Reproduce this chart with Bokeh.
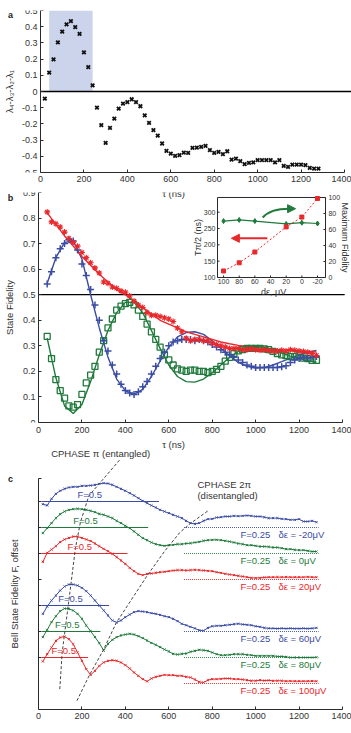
import math
from bokeh.plotting import figure
from bokeh.layouts import column
from bokeh.models import (Range1d, Label, Arrow, NormalHead,
                          FixedTicker, NumeralTickFormatter, CustomJSTickFormatter)
from bokeh.embed import file_html
from bokeh.resources import INLINE
from bokeh.core.properties import value

FONT = "Liberation Sans"
RED = "#e8282b"
BLUE = "#3b4ca4"
GREEN = "#1f7a3c"
INK = "#2a2a2a"
TXT = "#333333"

# ---------------- panel a data ----------------
tau_a = list(range(20, 1281, 20))
lam_a = [-0.044, 0.116, 0.198, 0.303, 0.370, 0.414, 0.434, 0.397,
         0.356, 0.241, 0.151, 0.038, -0.100, -0.208, -0.317, -0.225,
         -0.167, -0.106, -0.075, -0.065, -0.048, -0.065, -0.091, -0.147,
         -0.194, -0.239, -0.272, -0.321, -0.367, -0.383, -0.397, -0.393,
         -0.377, -0.379, -0.348, -0.346, -0.342, -0.336, -0.362, -0.379,
         -0.373, -0.387, -0.369, -0.420, -0.414, -0.430, -0.448, -0.440,
         -0.438, -0.424, -0.424, -0.424, -0.424, -0.438, -0.424, -0.459,
         -0.465, -0.451, -0.451, -0.451, -0.455, -0.472, -0.476, -0.476]
shade_a = [40, 240]
shade_top = 0.5

# ---------------- panel b data ----------------
tau_b = list(range(40, 1281, 20))
red_b = [0.824, 0.785, 0.778, 0.765, 0.745, 0.720, 0.705, 0.690,
         0.665, 0.645, 0.625, 0.605, 0.585, 0.550, 0.545, 0.530,
         0.525, 0.515, 0.510, 0.495, 0.475, 0.460, 0.450, 0.430,
         0.420, 0.420, 0.415, 0.410, 0.405, 0.395, 0.370, 0.355,
         0.330, 0.320, 0.325, 0.325, 0.320, 0.320, 0.310, 0.305,
         0.300, 0.295, 0.290, 0.290, 0.290, 0.285, 0.285, 0.288,
         0.285, 0.283, 0.285, 0.282, 0.280, 0.280, 0.283, 0.280,
         0.285, 0.283, 0.280, 0.278, 0.275, 0.270, 0.262]
blue_b = [0.542, 0.590, 0.645, 0.680, 0.700, 0.715, 0.710, 0.675,
          0.620, 0.575, 0.520, 0.460, 0.400, 0.320, 0.280, 0.225,
          0.190, 0.150, 0.125, 0.115, 0.110, 0.120, 0.140, 0.160,
          0.190, 0.220, 0.250, 0.275, 0.300, 0.315, 0.320, 0.325,
          0.325, 0.325, 0.320, 0.325, 0.320, 0.315, 0.305, 0.295,
          0.285, 0.275, 0.265, 0.255, 0.245, 0.235, 0.225, 0.220,
          0.215, 0.215, 0.215, 0.215, 0.215, 0.215, 0.218, 0.222,
          0.235, 0.245, 0.250, 0.255, 0.252, 0.255, 0.258]
green_b = [0.337, 0.250, 0.168, 0.125, 0.095, 0.065, 0.060, 0.070,
           0.110, 0.155, 0.185, 0.220, 0.275, 0.320, 0.370, 0.405,
           0.440, 0.455, 0.465, 0.470, 0.460, 0.440, 0.415, 0.385,
           0.355, 0.325, 0.295, 0.265, 0.245, 0.225, 0.210, 0.205,
           0.200, 0.205, 0.205, 0.200, 0.200, 0.195, 0.200, 0.208,
           0.220, 0.240, 0.255, 0.270, 0.280, 0.285, 0.290, 0.290,
           0.290, 0.290, 0.288, 0.285, 0.278, 0.270, 0.265, 0.262,
           0.258, 0.258, 0.265, 0.252, 0.250, 0.243, 0.243]
tau_fit = list(range(40, 1281, 40))
red_fit = [0.820, 0.775, 0.730, 0.690, 0.650, 0.615, 0.580, 0.550,
           0.520, 0.500, 0.475, 0.450, 0.425, 0.400, 0.385, 0.370,
           0.355, 0.345, 0.335, 0.325, 0.315, 0.308, 0.302, 0.298,
           0.294, 0.290, 0.287, 0.284, 0.282, 0.280, 0.278, 0.276]
blue_fit = [0.545, 0.645, 0.705, 0.710, 0.640, 0.500, 0.370, 0.255,
            0.170, 0.125, 0.110, 0.130, 0.180, 0.240, 0.295, 0.335,
            0.352, 0.355, 0.345, 0.320, 0.290, 0.260, 0.235, 0.220,
            0.213, 0.215, 0.225, 0.238, 0.252, 0.265, 0.275, 0.282]
green_fit = [0.330, 0.175, 0.065, 0.035, 0.070, 0.160, 0.265, 0.360,
             0.430, 0.470, 0.470, 0.430, 0.360, 0.290, 0.225, 0.180,
             0.160, 0.158, 0.170, 0.195, 0.225, 0.255, 0.278, 0.293,
             0.298, 0.295, 0.285, 0.272, 0.260, 0.250, 0.242, 0.236]

# ---------------- inset data ----------------
de_inset = [100, 80, 60, 20, 0, -20]
tpi2_inset = [120, 145, 178, 255, 285, 342]
maxfid_inset = [70.5, 72, 70.5, 67, 68.5, 67.5]
ins_xticks = [100, 80, 60, 40, 20, 0, -20]
ins_lticks = [100, 150, 200, 250, 300]
ins_rticks = [0, 20, 40, 60, 80, 100]

# ---------------- panel c data ----------------
tau_c = list(range(20, 1281, 20))
c_names = ["-20", "0", "20", "60", "80", "100"]
c_offsets = [1.5, 1.25, 1.0, 0.5, 0.25, 0.0]
c_colors = [BLUE, GREEN, RED, BLUE, GREEN, RED]
c_vals = [
    [0.474, 0.462, 0.526, 0.574, 0.603, 0.622, 0.635, 0.641,
     0.641, 0.650, 0.650, 0.654, 0.660, 0.670, 0.676, 0.673,
     0.660, 0.641, 0.622, 0.603, 0.580, 0.558, 0.532, 0.506,
     0.484, 0.462, 0.442, 0.420, 0.404, 0.388, 0.372, 0.356,
     0.340, 0.314, 0.292, 0.285, 0.292, 0.314, 0.330, 0.333,
     0.346, 0.349, 0.356, 0.356, 0.362, 0.359, 0.362, 0.365,
     0.362, 0.356, 0.356, 0.349, 0.340, 0.340, 0.340, 0.333,
     0.330, 0.324, 0.324, 0.330, 0.308, 0.308, 0.314, 0.301],
    [0.446, 0.494, 0.542, 0.590, 0.628, 0.654, 0.670, 0.676,
     0.680, 0.676, 0.670, 0.660, 0.647, 0.631, 0.622, 0.606,
     0.590, 0.564, 0.542, 0.516, 0.494, 0.462, 0.430, 0.398,
     0.378, 0.356, 0.340, 0.330, 0.324, 0.330, 0.333, 0.340,
     0.340, 0.346, 0.349, 0.356, 0.362, 0.372, 0.378, 0.381,
     0.382, 0.378, 0.372, 0.365, 0.356, 0.346, 0.340, 0.330,
     0.330, 0.324, 0.317, 0.317, 0.314, 0.308, 0.308, 0.301,
     0.292, 0.292, 0.285, 0.282, 0.282, 0.276, 0.269, 0.269],
    [0.420, 0.506, 0.538, 0.570, 0.610, 0.635, 0.650, 0.663,
     0.663, 0.650, 0.635, 0.620, 0.596, 0.570, 0.545, 0.522,
     0.497, 0.465, 0.433, 0.400, 0.362, 0.330, 0.304, 0.292,
     0.304, 0.308, 0.314, 0.320, 0.324, 0.330, 0.336, 0.340,
     0.340, 0.337, 0.340, 0.343, 0.340, 0.337, 0.333, 0.330,
     0.320, 0.314, 0.305, 0.298, 0.292, 0.285, 0.279, 0.272,
     0.266, 0.265, 0.266, 0.270, 0.272, 0.272, 0.273, 0.272,
     0.273, 0.272, 0.272, 0.272, 0.272, 0.275, 0.272, 0.272],
    [0.420, 0.490, 0.548, 0.596, 0.644, 0.683, 0.702, 0.702,
     0.692, 0.670, 0.638, 0.596, 0.548, 0.500, 0.452, 0.404,
     0.356, 0.337, 0.356, 0.388, 0.413, 0.436, 0.446, 0.442,
     0.436, 0.426, 0.420, 0.410, 0.397, 0.388, 0.372, 0.350,
     0.324, 0.310, 0.295, 0.280, 0.262, 0.258, 0.285, 0.300,
     0.305, 0.305, 0.310, 0.315, 0.320, 0.325, 0.318, 0.315,
     0.310, 0.300, 0.295, 0.285, 0.280, 0.280, 0.278, 0.280,
     0.278, 0.280, 0.278, 0.278, 0.280, 0.278, 0.280, 0.285],
    [0.446, 0.516, 0.590, 0.647, 0.696, 0.721, 0.718, 0.702,
     0.670, 0.622, 0.558, 0.503, 0.446, 0.388, 0.317, 0.381,
     0.420, 0.446, 0.462, 0.471, 0.478, 0.471, 0.455, 0.436,
     0.413, 0.390, 0.372, 0.350, 0.327, 0.308, 0.285, 0.279,
     0.285, 0.288, 0.305, 0.314, 0.324, 0.320, 0.314, 0.298,
     0.282, 0.272, 0.272, 0.276, 0.282, 0.282, 0.282, 0.276,
     0.272, 0.266, 0.266, 0.266, 0.266, 0.266, 0.260, 0.260,
     0.256, 0.250, 0.250, 0.250, 0.250, 0.250, 0.250, 0.252],
    [0.462, 0.532, 0.596, 0.660, 0.692, 0.702, 0.676, 0.628,
     0.548, 0.468, 0.388, 0.333, 0.372, 0.420, 0.452, 0.468,
     0.474, 0.468, 0.452, 0.426, 0.394, 0.356, 0.324, 0.292,
     0.270, 0.298, 0.314, 0.324, 0.333, 0.330, 0.330, 0.324,
     0.324, 0.314, 0.308, 0.288, 0.266, 0.260, 0.282, 0.292,
     0.292, 0.295, 0.298, 0.298, 0.292, 0.292, 0.288, 0.282,
     0.276, 0.276, 0.282, 0.278, 0.280, 0.276, 0.276, 0.276,
     0.272, 0.274, 0.272, 0.272, 0.272, 0.272, 0.274, 0.272],
]
f05_start = 15
f05_end = [555, 505, 410, 325, 285, 228]
f05_label_tau = [236, 216, 190, 147, 132, 116]
f025_span = [670, 1290]
cph1_tau = [98, 109, 140, 170, 193, 232, 378]
cph1_val = [0.196, 0.548, 1.05, 1.55, 1.80, 2.055, 2.41]
cph2_tau = [177, 235, 297, 359, 503, 580, 650, 700, 785]
cph2_val = [0.084, 0.333, 0.565, 0.837, 1.295, 1.52, 1.70, 1.79, 1.917]

W = 351


def base(h, xr, yr, bt, bb):
    p = figure(width=W, height=h, x_range=xr, y_range=yr, output_backend="svg",
               toolbar_location=None, min_border_left=0, min_border_right=0,
               min_border_top=bt, min_border_bottom=bb)
    p.outline_line_color = None
    p.xgrid.visible = False
    p.ygrid.visible = False
    p.background_fill_alpha = 0
    p.border_fill_alpha = 0
    return p


def style_axis(ax, fs="9px", lfs="9.5px", tick=3):
    ax.major_tick_in = tick
    ax.major_tick_out = 0
    ax.minor_tick_in = 0
    ax.minor_tick_out = 0
    ax.axis_line_color = INK
    ax.major_tick_line_color = INK
    ax.major_label_text_font = FONT
    ax.major_label_text_font_size = fs
    ax.major_label_text_color = TXT
    ax.axis_label_text_font = FONT
    ax.axis_label_text_font_style = "normal"
    ax.axis_label_text_font_size = lfs
    ax.axis_label_text_color = TXT
    ax.major_label_standoff = 3
    ax.axis_label_standoff = 2


def lab(p, x, y, t, size="9.5px", color=TXT, align="center", base_="middle",
        bold=False, angle=0.0, **kw):
    p.add_layout(Label(x=x, y=y, text=t, text_font=FONT, text_font_size=size,
                       text_font_style="bold" if bold else "normal",
                       text_color=color, text_align=align, text_baseline=base_,
                       angle=angle, **kw))


xticks = [0, 200, 400, 600, 800, 1000, 1200, 1400]

# ================= panel a =================  (canvas 0..186, frame rows 10..172)
pa = base(186, Range1d(-184.2, 1432.2), Range1d(-0.5, 0.5), 10, 14)
pa.quad(left=[shade_a[0]], right=[shade_a[1]], bottom=[0], top=[shade_top],
        fill_color="#ccd4ec", line_color=None)
pa.line([0, 1432], [0, 0], line_color="black", line_width=1.3)
pa.scatter(tau_a, lam_a, marker="x", size=5, line_color="#111111", line_width=1.8)
for ax in pa.axis:
    style_axis(ax)
pa.xaxis.ticker = FixedTicker(ticks=xticks)
pa.xaxis.bounds = (0, 1400)
pa.yaxis.ticker = FixedTicker(ticks=[-0.5, -0.4, -0.3, -0.2, -0.1, 0, 0.1, 0.2, 0.3, 0.4, 0.5])
pa.yaxis.formatter = NumeralTickFormatter(format="0.[0]")
pa.yaxis.fixed_location = 0
pa.yaxis.bounds = (-0.5, 0.5)
pa.yaxis.axis_label = "λ₄-λ₃-λ₂-λ₁"
pa.xaxis.major_label_standoff = 3
pa.yaxis.axis_label_standoff = 4
lab(pa, -138, 0.475, "a", size="9px", color="#222222", bold=True)

# ================= panel b =================  (canvas 186..436, frame rows 192..422)
pb = base(250, Range1d(-175.0, 1441.4), Range1d(0, 0.9), 6, 14)
pb.line([0, 1410], [0.5, 0.5], line_color="black", line_width=1.3)
pb.line(tau_fit, green_fit, line_color=GREEN, line_width=1.4)
pb.line(tau_fit, blue_fit, line_color=BLUE, line_width=1.4)
pb.line(tau_fit, red_fit, line_color=RED, line_width=1.4)
pb.scatter(tau_b, green_b, marker="square", size=6, fill_color=None,
           line_color=GREEN, line_width=1.3)
pb.scatter(tau_b, blue_b, marker="cross", size=7, line_color=BLUE, line_width=1.5)
pb.scatter(tau_b, red_b, marker="asterisk", size=6, line_color=RED, line_width=1.1)
for ax in pb.axis:
    style_axis(ax)
pb.xaxis.ticker = FixedTicker(ticks=xticks)
pb.xaxis.bounds = (0, 1400)
pb.yaxis.ticker = FixedTicker(ticks=[0, 0.1, 0.2, 0.3, 0.4, 0.5, 0.6, 0.7, 0.8, 0.9])
pb.yaxis.formatter = NumeralTickFormatter(format="0.[0]")
pb.yaxis.fixed_location = 0
pb.yaxis.bounds = (0, 0.9)
pb.yaxis.axis_label = "State Fidelity"
pb.xaxis.major_label_standoff = 4
pb.yaxis.axis_label_standoff = 5
lab(pb, -129, 0.88, "b", size="9px", color="#222222", bold=True)
lab(pb, 622, 0.896, "τ (ns)")  # x title of panel a

# ---- inset drawn inside panel b on its own ranges ----
pb.extra_x_ranges = {"ix": Range1d(384.8, -63.4)}
pb.extra_y_ranges = {"iy": Range1d(-344.1, 360.3), "if": Range1d(-181.25, 106.25)}
IX0, IX1, IY0, IY1 = 107.7, -30.2, 100, 345
pb.quad(left=[IX0], right=[IX1], bottom=[IY0], top=[IY1], x_range_name="ix",
        y_range_name="iy", fill_color="white", line_color=INK, line_width=1)
pb.segment(x0=ins_xticks, x1=ins_xticks, y0=[IY0] * 7, y1=[IY0 + 6.1] * 7,
           x_range_name="ix", y_range_name="iy", line_color=INK, line_width=1)
pb.segment(x0=[IX0] * 5, x1=[IX0 - 2.6] * 5, y0=ins_lticks, y1=ins_lticks,
           x_range_name="ix", y_range_name="iy", line_color=INK, line_width=1)
pb.segment(x0=[IX1] * 6, x1=[IX1 + 2.6] * 6, y0=ins_rticks, y1=ins_rticks,
           x_range_name="ix", y_range_name="if", line_color=INK, line_width=1)
pb.text(x=ins_xticks, y=[96.9] * 7, text=[str(v) for v in ins_xticks],
        x_range_name="ix", y_range_name="iy", text_font=value(FONT),
        text_font_size="7px", text_color=TXT, text_align="center", text_baseline="top")
pb.text(x=[IX0 + 2.6] * 5, y=ins_lticks, text=[str(v) for v in ins_lticks],
        x_range_name="ix", y_range_name="iy", text_font=value(FONT),
        text_font_size="7px", text_color=TXT, text_align="right", text_baseline="middle")
pb.text(x=[IX1 - 3.8] * 6, y=ins_rticks, text=[str(v) for v in ins_rticks],
        x_range_name="ix", y_range_name="if", text_font=value(FONT),
        text_font_size="7px", text_color=TXT, text_align="left", text_baseline="middle")
lab(pb, 36, 57, "dε, μV", size="9px", x_range_name="ix", y_range_name="iy")
lab(pb, 132, 222.5, "Tπ/2 (ns)", size="9px", angle=math.pi / 2,
    x_range_name="ix", y_range_name="iy")
lab(pb, -55.7, 50, "Maximum Fidelity", size="9px", angle=-math.pi / 2,
    x_range_name="ix", y_range_name="if")
pb.line(de_inset, maxfid_inset, x_range_name="ix", y_range_name="if",
        line_color=GREEN, line_width=1.2)
pb.scatter(de_inset, maxfid_inset, x_range_name="ix", y_range_name="if",
           marker="diamond", size=5, fill_color=GREEN, line_color=GREEN)
pb.line(de_inset, tpi2_inset, x_range_name="ix", y_range_name="iy",
        line_color=RED, line_width=1.0, line_dash="2 2")
pb.scatter(de_inset, tpi2_inset, x_range_name="ix", y_range_name="iy",
           marker="square", size=4, fill_color=RED, line_color=RED)
pb.add_layout(Arrow(end=NormalHead(size=8, fill_color=RED, line_color=RED),
                    x_start=44, y_start=220, x_end=90, y_end=220,
                    x_range_name="ix", y_range_name="iy",
                    line_color=RED, line_width=2))
pb.bezier(x0=[50], y0=[75], x1=[16], y1=[86], cx0=[42], cy0=[84], cx1=[28], cy1=[86],
          x_range_name="ix", y_range_name="if", line_color=GREEN, line_width=2)
pb.add_layout(Arrow(end=NormalHead(size=8, fill_color=GREEN, line_color=GREEN),
                    x_start=18, y_start=86, x_end=8, y_end=86,
                    x_range_name="ix", y_range_name="if",
                    line_color=GREEN, line_width=2))

# ================= panel c =================  (canvas 436..725, frame rows 436..709)
pc = base(289, Range1d(-175.0, 1441.4), Range1d(0, 2.625), 0, 16)
for i in range(6):
    off = c_offsets[i]
    col = c_colors[i]
    yv = [v + off for v in c_vals[i]]
    pc.line([f05_start, f05_end[i]], [off + 0.5, off + 0.5], line_color=col, line_width=1.0)
    pc.line(f025_span, [off + 0.25, off + 0.25], line_color=col, line_width=0.9,
            line_dash="1 1")
    pc.line(tau_c, yv, line_color=col, line_width=1.0)
    pc.scatter(tau_c, yv, marker="x", size=3, line_color=col, line_width=1.0)
    lab(pc, f05_label_tau[i], off + 0.567, "F=0.5", color=col)
    lab(pc, 930, off + 0.18, "F=0.25", color=col, align="left")
    lab(pc, 1105, off + 0.18, "δε = " + c_names[i] + "μV", color=col, align="left")
pc.line(cph1_tau, cph1_val, line_color="#444444", line_width=1.0, line_dash="3 2")
pc.line(cph2_tau, cph2_val, line_color="#444444", line_width=1.0, line_dash="3 2")
lab(pc, 622, 2.548, "τ (ns)")  # x title of panel b
lab(pc, 286, 2.46, "CPHASE π (entangled)")
lab(pc, 732, 2.167, "CPHASE 2π", align="left")
lab(pc, 732, 2.055, "(disentangled)", align="left")
for ax in pc.axis:
    style_axis(ax)
pc.xaxis.ticker = FixedTicker(ticks=xticks)
pc.xaxis.bounds = (0, 1400)
pc.yaxis.ticker = FixedTicker(ticks=[0.5, 0.75, 1.0, 1.25, 1.5, 1.75, 2.0, 2.22])
pc.yaxis.bounds = (0, 2.22)
pc.yaxis.fixed_location = 0
pc.yaxis.formatter = CustomJSTickFormatter(code="return ''")
pc.yaxis.major_label_standoff = 0
pc.yaxis.axis_label = "Bell State Fidelity F, offset"
pc.yaxis.axis_label_standoff = 19
pc.xaxis.major_label_standoff = 3
lab(pc, -129, 2.22, "c", size="9px", color="#222222", bold=True)

layout = column(pa, pb, pc)
open("out.html", "w").write(file_html(layout, INLINE))
